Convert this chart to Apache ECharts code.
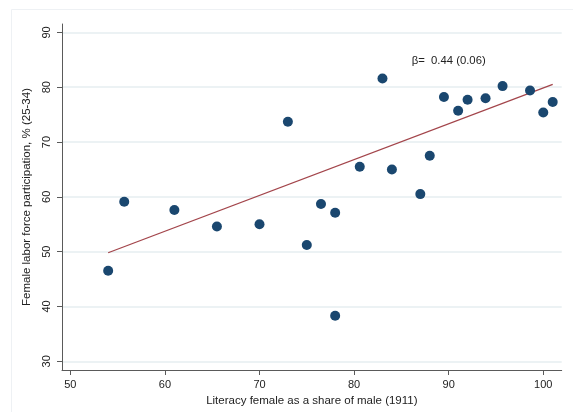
<!DOCTYPE html>
<html>
<head>
<meta charset="utf-8">
<script src="https://cdn.jsdelivr.net/npm/echarts@6/dist/echarts.min.js"></script>
<style>
html,body{margin:0;padding:0;background:#fff;}
#chart{width:573px;height:412px;}
</style>
</head>
<body>
<div id="chart"></div>
<script>
// Data
const literacy = [54.0, 55.7, 61.0, 65.5, 70.0, 73.0, 75.0, 76.5, 78.0, 78.0, 80.6, 83.0, 84.0, 87.0, 88.0, 89.5, 91.0, 92.0, 93.9, 95.7, 98.6, 100.0, 101.0];
const participation = [46.5, 59.1, 57.6, 54.6, 55.0, 73.7, 51.2, 58.7, 57.1, 38.3, 65.5, 81.6, 65.0, 60.5, 67.5, 78.2, 75.7, 77.7, 78.0, 80.2, 79.4, 75.4, 77.3];
const fitX = [54.0, 101.0];
const fitY = [49.8, 80.5];
const xTicks = [50, 60, 70, 80, 90, 100];
const yTicks = [30, 40, 50, 60, 70, 80, 90];
const annotation = { x: 90.0, y: 84.8, text: 'β=  0.44 (0.06)' };

const points = literacy.map((v, i) => [v, participation[i]]);
const fitLine = fitX.map((v, i) => [v, fitY[i]]);

const font = 'Liberation Sans, Arial, sans-serif';
const chart = echarts.init(document.getElementById('chart'), null, { renderer: 'canvas' });
const axisColor = '#5a5a5a';

chart.setOption({
  animation: false,
  backgroundColor: '#ffffff',
  grid: { left: 62, top: 24, right: 11.3, bottom: 42, containLabel: false },
  xAxis: {
    type: 'value',
    min: 49.12, max: 101.95,
    name: 'Literacy female as a share of male (1911)',
    nameLocation: 'middle',
    nameGap: 21,
    nameTextStyle: { fontFamily: font, fontSize: 11.5, color: '#222' },
    axisLine: { show: true, onZero: false, lineStyle: { color: axisColor, width: 1 } },
    axisTick: { show: true, length: 5, customValues: xTicks, lineStyle: { color: axisColor } },
    axisLabel: { customValues: xTicks, margin: 9, fontFamily: font, fontSize: 11, color: '#222' },
    splitLine: { show: false }
  },
  yAxis: {
    type: 'value',
    min: 28.41, max: 91.53,
    name: 'Female labor force participation, % (25-34)',
    nameLocation: 'middle',
    nameGap: 22,
    nameRotate: 90,
    nameTextStyle: { fontFamily: font, fontSize: 11.5, color: '#222' },
    axisLine: { show: true, onZero: false, lineStyle: { color: axisColor, width: 1 } },
    axisTick: { show: true, length: 5, customValues: yTicks, lineStyle: { color: axisColor } },
    axisLabel: { customValues: yTicks, margin: 10, rotate: 90, fontFamily: font, fontSize: 11, color: '#222' },
    splitLine: { show: true, lineStyle: { color: '#e6eef0', width: 1.5 } }
  },
  series: [
    {
      type: 'line',
      data: fitLine,
      symbol: 'none',
      lineStyle: { color: '#a3454b', width: 1.3 },
      z: 2,
      silent: true
    },
    {
      type: 'scatter',
      data: points,
      symbol: 'circle',
      symbolSize: 10,
      itemStyle: { color: '#1a476f', opacity: 1 },
      z: 3
    }
  ]
});

const p = chart.convertToPixel({ gridIndex: 0 }, [annotation.x, annotation.y]);
chart.setOption({
  graphic: [
    {
      type: 'rect',
      shape: { x: 11.5, y: 9.5, width: 600, height: 500 },
      style: { fill: null, stroke: '#eef1f4', lineWidth: 1 },
      silent: true, z: -1
    },
    {
      type: 'text',
      x: p[0], y: p[1],
      style: { text: annotation.text, fontFamily: font, fontSize: 11.3, fill: '#222', align: 'center', verticalAlign: 'middle' },
      silent: true
    }
  ]
});
</script>
</body>
</html>
